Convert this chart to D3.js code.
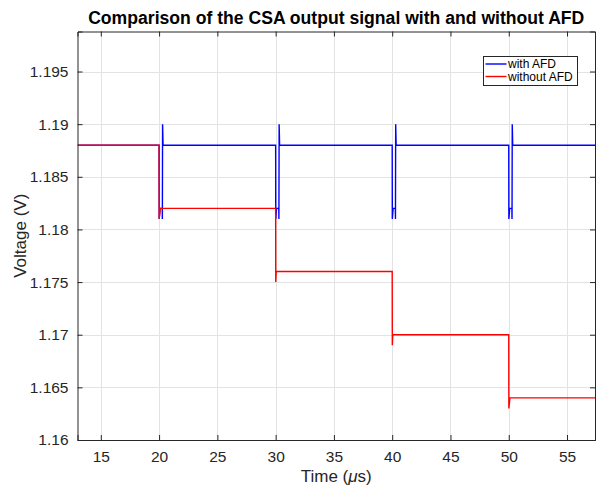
<!DOCTYPE html>
<html lang="en">
<head>
    <meta charset="UTF-8">
    <title>CSA output signal with and without AFD</title>
    <script src="https://d3js.org/d3.v7.min.js"></script>
    <style>
        body {
            margin: 0;
            background: #fff;
            font-family: "Liberation Sans", Arial, sans-serif;
        }
        svg {
            display: block;
        }
    </style>
</head>
<body>
    <svg id="chart" width="598" height="486"></svg>

    <script>
        // Data
        const xTicks = [15, 20, 25, 30, 35, 40, 45, 50, 55];
        const yTicks = [1.16, 1.165, 1.17, 1.175, 1.18, 1.185, 1.19, 1.195];
        const yTickLabels = ["1.16", "1.165", "1.17", "1.175", "1.18", "1.185", "1.19", "1.195"];

        // with AFD (blue): short dip and overshoot at each pulse, back to 1.188 V
        const timeWith = [13, 20.0, 20.01, 20.08, 20.27, 20.28, 20.30, 20.34,
                          30.0, 30.01, 30.08, 30.27, 30.28, 30.30, 30.34,
                          40.0, 40.01, 40.08, 40.27, 40.28, 40.30, 40.34,
                          50.0, 50.01, 50.08, 50.27, 50.28, 50.30, 50.34, 58];
        const voltWith = [1.188, 1.188, 1.181, 1.182, 1.182, 1.181, 1.190, 1.188,
                          1.188, 1.181, 1.182, 1.182, 1.181, 1.190, 1.188,
                          1.188, 1.181, 1.182, 1.182, 1.181, 1.190, 1.188,
                          1.188, 1.181, 1.182, 1.182, 1.181, 1.190, 1.188, 1.188];

        // without AFD (red): baseline steps down 6 mV at every pulse
        const timeWithout = [13, 20.0, 20.01, 20.1, 30.0, 30.01, 30.05,
                             40.0, 40.01, 40.05, 50.0, 50.01, 50.1, 58];
        const voltWithout = [1.188, 1.188, 1.181, 1.182, 1.182, 1.175, 1.176,
                             1.176, 1.169, 1.170, 1.170, 1.163, 1.164, 1.164];

        const seriesNames = ["with AFD", "without AFD"];
        const seriesColors = ["#0000ff", "#ff0000"];

        // Layout
        const plot = {left: 77.5, right: 595, top: 31.5, bottom: 440};
        const axisColor = "#262626";

        const svg = d3.select("#chart");

        const x = d3.scaleLinear().domain([13, 57.4]).range([plot.left, plot.right]);
        const y = d3.scaleLinear().domain([1.16, 1.1988]).range([plot.bottom, plot.top]);

        svg.append("defs").append("clipPath")
            .attr("id", "plotClip")
            .append("rect")
            .attr("x", plot.left)
            .attr("y", plot.top)
            .attr("width", plot.right - plot.left)
            .attr("height", plot.bottom - plot.top);

        // Grid
        const grid = svg.append("g").attr("class", "grid");
        grid.selectAll(".gx").data(xTicks).enter().append("line")
            .attr("x1", d => Math.round(x(d)) + 0.5)
            .attr("x2", d => Math.round(x(d)) + 0.5)
            .attr("y1", plot.top)
            .attr("y2", plot.bottom)
            .attr("stroke", "#e3e3e3")
            .attr("stroke-width", 1);
        grid.selectAll(".gy").data(yTicks).enter().append("line")
            .attr("x1", plot.left)
            .attr("x2", plot.right)
            .attr("y1", d => Math.round(y(d)) + 0.5)
            .attr("y2", d => Math.round(y(d)) + 0.5)
            .attr("stroke", "#e3e3e3")
            .attr("stroke-width", 1);

        // Lines
        const line = d3.line()
            .x(d => x(d[0]))
            .y(d => y(d[1]));

        const lines = svg.append("g").attr("clip-path", "url(#plotClip)");
        lines.append("path")
            .datum(d3.zip(timeWith, voltWith))
            .attr("d", line)
            .attr("fill", "none")
            .attr("stroke", seriesColors[0])
            .attr("stroke-width", 1.4);
        lines.append("path")
            .datum(d3.zip(timeWithout, voltWithout))
            .attr("d", line)
            .attr("fill", "none")
            .attr("stroke", seriesColors[1])
            .attr("stroke-width", 1.4);

        // Axes (MATLAB style: box, inward ticks)
        const tickLen = 5;
        const bottomAxis = svg.append("g")
            .attr("transform", `translate(0,${plot.bottom})`)
            .call(d3.axisBottom(x).tickValues(xTicks).tickSize(-tickLen).tickPadding(11));
        const topAxis = svg.append("g")
            .attr("transform", `translate(0,${plot.top})`)
            .call(d3.axisTop(x).tickValues(xTicks).tickSize(-tickLen).tickFormat(""));
        const leftAxis = svg.append("g")
            .attr("transform", `translate(${plot.left},0)`)
            .call(d3.axisLeft(y).tickValues(yTicks).tickSize(-tickLen).tickPadding(9)
                .tickFormat((d, i) => yTickLabels[i]));
        const rightAxis = svg.append("g")
            .attr("transform", `translate(${plot.right},0)`)
            .call(d3.axisRight(y).tickValues(yTicks).tickSize(-tickLen).tickFormat(""));

        [bottomAxis, topAxis, leftAxis, rightAxis].forEach(g => {
            g.select(".domain").attr("stroke", axisColor).attr("stroke-width", 1);
            g.selectAll(".tick line").attr("stroke", axisColor);
            g.selectAll("text")
                .attr("fill", axisColor)
                .style("font-family", "'Liberation Sans', Arial, sans-serif")
                .style("font-size", "15.5px");
        });

        // Title
        svg.append("text")
            .attr("x", (plot.left + plot.right) / 2)
            .attr("y", 24)
            .attr("text-anchor", "middle")
            .style("font-size", "17.6px")
            .style("font-weight", "bold")
            .attr("fill", "#000")
            .text("Comparison of the CSA output signal with and without AFD");

        // Axis labels
        const xLabel = svg.append("text")
            .attr("x", (plot.left + plot.right) / 2)
            .attr("y", 482)
            .attr("text-anchor", "middle")
            .style("font-size", "17px")
            .attr("fill", axisColor);
        xLabel.append("tspan").text("Time (");
        xLabel.append("tspan").style("font-style", "italic").text("\u03bc");
        xLabel.append("tspan").text("s)");

        svg.append("text")
            .attr("transform", `translate(26,${(plot.top + plot.bottom) / 2}) rotate(-90)`)
            .attr("text-anchor", "middle")
            .style("font-size", "17px")
            .attr("fill", axisColor)
            .text("Voltage (V)");

        // Legend
        const legend = svg.append("g").attr("transform", "translate(483.5,56.5)");
        legend.append("rect")
            .attr("width", 94)
            .attr("height", 29)
            .attr("fill", "#fff")
            .attr("stroke", axisColor)
            .attr("stroke-width", 1);
        seriesNames.forEach((name, i) => {
            const ly = 7.5 + i * 12.5;
            legend.append("line")
                .attr("x1", 2).attr("x2", 23)
                .attr("y1", ly).attr("y2", ly)
                .attr("stroke", seriesColors[i])
                .attr("stroke-width", 1.4);
            legend.append("text")
                .attr("x", 24.5)
                .attr("y", ly + 4.3)
                .style("font-size", "12px")
                .attr("fill", "#000")
                .text(name);
        });
    </script>
</body>
</html>
